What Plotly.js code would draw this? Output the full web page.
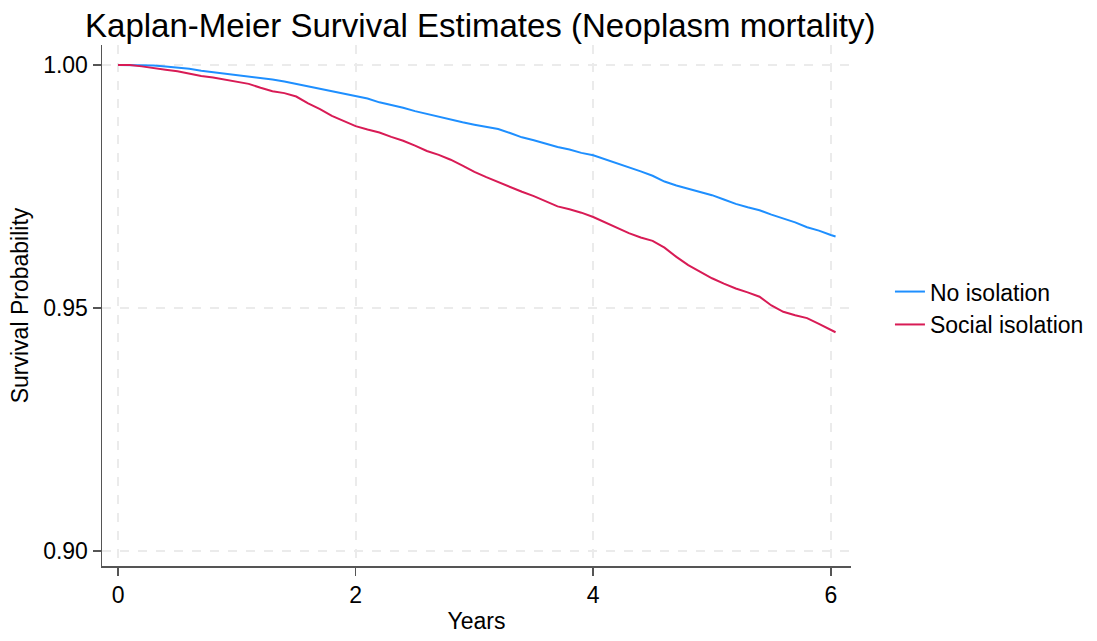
<!DOCTYPE html>
<html>
<head>
<meta charset="utf-8">
<script src="https://cdn.plot.ly/plotly-3.0.1.min.js"></script>
<style>html,body{margin:0;padding:0;background:#fff;}#chart{width:1097px;height:641px;}</style>
</head>
<body>
<div id="chart"></div>
<script>
const years = [0.0,0.1,0.2,0.3,0.4,0.5,0.6,0.7,0.8,0.9,1.0,1.1,1.2,1.3,1.4,1.5,1.6,1.7,1.8,1.9,2.0,2.1,2.2,2.3,2.4,2.5,2.6,2.7,2.8,2.9,3.0,3.1,3.2,3.3,3.4,3.5,3.6,3.7,3.8,3.9,4.0,4.1,4.2,4.3,4.4,4.5,4.6,4.7,4.8,4.9,5.0,5.1,5.2,5.3,5.4,5.5,5.6,5.7,5.8,5.9,6.0,6.04];
const noIsolation = [1.0000,1.0000,0.99995,0.9999,0.9997,0.9995,0.9992,0.9988,0.9985,0.9982,0.9980,0.9977,0.9974,0.9970,0.9966,0.9961,0.9957,0.9951,0.9947,0.9942,0.9937,0.9931,0.9923,0.9918,0.9912,0.9905,0.9899,0.9893,0.9887,0.9882,0.9877,0.9873,0.9868,0.9860,0.9851,0.9845,0.9838,0.9831,0.9826,0.9819,0.9814,0.9806,0.9797,0.9789,0.9781,0.9772,0.9760,0.9752,0.9745,0.9739,0.9732,0.9723,0.9714,0.9707,0.9701,0.9692,0.9684,0.9676,0.9666,0.9659,0.9650,0.9647];
const socialIsolation = [1.0000,1.0000,0.9997,0.9993,0.9990,0.9987,0.9982,0.9977,0.9974,0.9970,0.9966,0.9961,0.9953,0.9946,0.9942,0.9935,0.9921,0.9909,0.9895,0.9885,0.9874,0.9867,0.9861,0.9852,0.9844,0.9834,0.9823,0.9815,0.9805,0.9793,0.9780,0.9769,0.9759,0.9748,0.9739,0.9730,0.9719,0.9709,0.9703,0.9696,0.9687,0.9676,0.9664,0.9654,0.9645,0.9638,0.9624,0.9605,0.9588,0.9575,0.9561,0.9550,0.9540,0.9532,0.9523,0.9505,0.9492,0.9485,0.9479,0.9467,0.9454,0.9450];
const seriesNames = ["No isolation","Social isolation"];
const xTicks = [0,2,4,6];
const yTicks = [0.90,0.95,1.00];
const yTickLabels = ["0.90","0.95","1.00"];

const font = "Liberation Sans, Arial, sans-serif";
const traces = [
  {x: years, y: noIsolation, name: seriesNames[0], type: "scatter", mode: "lines",
   line: {color: "#1E8FFF", width: 2}},
  {x: years, y: socialIsolation, name: seriesNames[1], type: "scatter", mode: "lines",
   line: {color: "#D81B55", width: 2}}
];
const layout = {
  width: 1097, height: 641,
  paper_bgcolor: "#fff", plot_bgcolor: "#fff",
  margin: {l: 102, r: 246, t: 45, b: 75, autoexpand: false},
  font: {family: font, color: "#000", size: 23},
  title: {text: "Kaplan-Meier Survival Estimates (Neoplasm mortality)", font: {family: font, size: 33, color: "#000"},
          x: 0.0775, xanchor: "left", xref: "container", y: 0.96, yanchor: "middle"},
  xaxis: {
    range: [-0.135, 6.17], tickvals: xTicks, ticktext: xTicks.map(String),
    showline: true, linecolor: "#555", linewidth: 1.5, mirror: false,
    ticks: "outside", ticklen: 8, tickwidth: 1.5, tickcolor: "#555",
    showgrid: true, gridcolor: "#ebebeb", griddash: "dash", gridwidth: 2,
    zeroline: false, tickfont: {size: 23, family: font, color: "#000"},
    title: {text: "Years", font: {size: 23, family: font, color: "#000"}, standoff: 6}
  },
  yaxis: {
    range: [0.8969, 1.0041], tickvals: yTicks, ticktext: yTickLabels,
    showline: true, linecolor: "#555", linewidth: 1.5, mirror: false,
    ticks: "outside", ticklen: 8, tickwidth: 1.5, tickcolor: "#555",
    showgrid: true, gridcolor: "#ebebeb", griddash: "dash", gridwidth: 2,
    zeroline: false, tickfont: {size: 23, family: font, color: "#000"},
    title: {text: "Survival Probability", font: {size: 23, family: font, color: "#000"}, standoff: 8}
  },
  showlegend: true,
  legend: {x: 1.052, xanchor: "left", y: 0.495, yanchor: "middle", bgcolor: "rgba(0,0,0,0)",
           font: {size: 23, family: font, color: "#000"}, tracegroupgap: 0}
};
Plotly.newPlot("chart", traces, layout, {displayModeBar: false, staticPlot: true});
</script>
</body>
</html>
